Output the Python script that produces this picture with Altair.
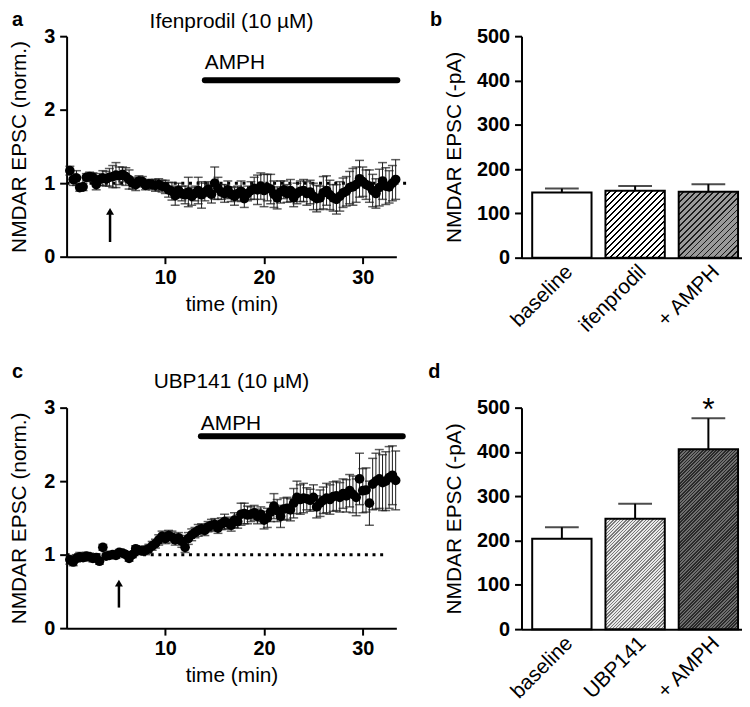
import altair as alt
import pandas as pd

FONT = "Liberation Sans"

# ---------------- data ----------------
minutes = [0.33, 0.67, 1.00, 1.33, 1.67, 2.00, 2.33, 2.67, 3.00, 3.33,
           3.67, 4.00, 4.33, 4.67, 5.00, 5.33, 5.67, 6.00, 6.33, 6.67,
           7.00, 7.33, 7.67, 8.00, 8.33, 8.67, 9.00, 9.33, 9.67, 10.00,
           10.33, 10.67, 11.00, 11.33, 11.67, 12.00, 12.33, 12.67, 13.00, 13.33,
           13.67, 14.00, 14.33, 14.67, 15.00, 15.33, 15.67, 16.00, 16.33, 16.67,
           17.00, 17.33, 17.67, 18.00, 18.33, 18.67, 19.00, 19.33, 19.67, 20.00,
           20.33, 20.67, 21.00, 21.33, 21.67, 22.00, 22.33, 22.67, 23.00, 23.33,
           23.67, 24.00, 24.33, 24.67, 25.00, 25.33, 25.67, 26.00, 26.33, 26.67,
           27.00, 27.33, 27.67, 28.00, 28.33, 28.67, 29.00, 29.33, 29.67, 30.00,
           30.33, 30.67, 31.00, 31.33, 31.67, 32.00, 32.33, 32.67, 33.00, 33.33]

ifen_mean = [1.17, 1.05, 1.07, 0.94, 0.95, 1.08, 1.09, 1.08, 0.98, 1.05,
             1.07, 1.06, 1.08, 1.09, 1.11, 1.10, 1.12, 1.09, 1.05, 1.00,
             0.98, 1.03, 1.02, 0.97, 0.99, 0.98, 0.97, 0.98, 0.96, 0.95,
             0.91, 0.89, 0.83, 0.90, 0.86, 0.84, 0.88, 0.82, 0.86, 0.90,
             0.84, 0.88, 0.92, 0.85, 1.00, 0.93, 0.88, 0.86, 0.91, 0.85,
             0.82, 0.86, 0.89, 0.79, 0.86, 0.90, 0.93, 0.91, 0.96, 0.90,
             0.94, 0.92, 0.85, 0.80, 0.88, 0.91, 0.86, 0.90, 0.80, 0.86,
             0.89, 0.90, 0.86, 0.88, 0.82, 0.79, 0.80, 0.87, 0.90, 0.84,
             0.80, 0.78, 0.82, 0.87, 0.89, 0.94, 0.95, 0.98, 1.06, 1.02,
             0.98, 0.96, 0.90, 0.86, 0.94, 1.03, 0.96, 0.95, 1.00, 1.05]
ifen_sem = [0.06, 0.08, 0.10, 0.05, 0.05, 0.05, 0.06, 0.06, 0.07, 0.08,
            0.10, 0.10, 0.12, 0.15, 0.17, 0.12, 0.10, 0.12, 0.13, 0.08,
            0.08, 0.07, 0.07, 0.06, 0.06, 0.07, 0.08, 0.08, 0.08, 0.09,
            0.10, 0.12, 0.13, 0.10, 0.10, 0.12, 0.20, 0.12, 0.10, 0.18,
            0.18, 0.12, 0.10, 0.12, 0.22, 0.15, 0.10, 0.12, 0.12, 0.10,
            0.12, 0.10, 0.14, 0.12, 0.10, 0.12, 0.15, 0.20, 0.18, 0.22,
            0.18, 0.20, 0.18, 0.15, 0.15, 0.12, 0.12, 0.15, 0.12, 0.14,
            0.14, 0.15, 0.16, 0.16, 0.18, 0.18, 0.16, 0.22, 0.20, 0.20,
            0.18, 0.20, 0.20, 0.20, 0.20, 0.22, 0.25, 0.24, 0.25, 0.20,
            0.20, 0.22, 0.22, 0.20, 0.25, 0.25, 0.25, 0.22, 0.24, 0.27]

ubp_mean = [0.93, 0.90, 0.95, 0.97, 0.96, 0.98, 0.97, 0.95, 0.96, 0.91,
            1.10, 0.98, 0.99, 1.00, 0.99, 1.03, 1.02, 1.00, 0.95, 1.00,
            1.08, 1.06, 1.05, 1.06, 1.08, 1.12, 1.15, 1.20, 1.25, 1.22,
            1.26, 1.24, 1.20, 1.23, 1.18, 1.10, 1.22, 1.27, 1.30, 1.33,
            1.35, 1.33, 1.38, 1.40, 1.41, 1.36, 1.42, 1.45, 1.43, 1.40,
            1.47, 1.45, 1.55, 1.56, 1.54, 1.55, 1.57, 1.52, 1.55, 1.47,
            1.50, 1.58, 1.66, 1.60, 1.52, 1.62, 1.63, 1.61, 1.70, 1.78,
            1.75, 1.77, 1.76, 1.74, 1.78, 1.65, 1.70, 1.74, 1.77, 1.75,
            1.79, 1.80, 1.78, 1.83, 1.80, 1.87, 1.82, 1.78, 2.03, 1.87,
            1.88, 1.70, 1.96, 2.00, 2.03, 1.98, 2.00, 2.05, 2.08, 2.01]
ubp_sem = [0.06, 0.05, 0.05, 0.06, 0.05, 0.05, 0.05, 0.05, 0.05, 0.04,
           0.04, 0.04, 0.04, 0.04, 0.04, 0.04, 0.04, 0.04, 0.04, 0.04,
           0.04, 0.05, 0.05, 0.06, 0.06, 0.06, 0.06, 0.07, 0.07, 0.07,
           0.07, 0.08, 0.07, 0.07, 0.08, 0.07, 0.08, 0.08, 0.07, 0.08,
           0.07, 0.07, 0.07, 0.08, 0.08, 0.07, 0.08, 0.10, 0.08, 0.08,
           0.10, 0.09, 0.15, 0.14, 0.12, 0.10, 0.10, 0.10, 0.10, 0.12,
           0.13, 0.13, 0.17, 0.15, 0.15, 0.15, 0.15, 0.15, 0.20, 0.22,
           0.20, 0.20, 0.15, 0.15, 0.17, 0.15, 0.18, 0.18, 0.20, 0.20,
           0.20, 0.20, 0.20, 0.20, 0.22, 0.22, 0.25, 0.25, 0.35, 0.30,
           0.30, 0.30, 0.35, 0.38, 0.40, 0.38, 0.40, 0.42, 0.40, 0.40]

cats_b = ["baseline", "ifenprodil", "+ AMPH"]
vals_b = [147, 151, 149]
errs_b = [9, 11, 17]

cats_d = ["baseline", "UBP141", "+ AMPH"]
vals_d = [204, 249, 406]
errs_d = [26, 34, 70]

# ---------------- layout constants ----------------
W_T, H_T = 332, 222
W_B, H_B = 222, 223

TSX = alt.Scale(domain=[0, 33.4], nice=False, zero=False)
TSY = alt.Scale(domain=[0, 3], nice=False)
TAX_X = alt.Axis(title="time (min)", values=[10, 20, 30], labelPadding=4, titlePadding=6)
TAX_Y = alt.Axis(title="NMDAR EPSC (norm.)", values=[0, 1, 2, 3], labelPadding=5, titlePadding=14)


def time_panel(mean, sem, letter, title, amph, amph_bar_y, amph_text_y,
               arrow_t, arrow_y, dots, title_y, letter_xy):
    df = pd.DataFrame({"t": minutes, "m": mean, "e": sem})
    df["lo"] = df["m"] - df["e"]
    df["hi"] = df["m"] + df["e"]

    def X(f):
        return alt.X(f"{f}:Q", scale=TSX, axis=TAX_X)

    def Y(f):
        return alt.Y(f"{f}:Q", scale=TSY, axis=TAX_Y)

    base = alt.Chart(df)
    dotted = alt.Chart(pd.DataFrame({"x0": [dots[0]], "x1": [dots[1]], "y": [1.0]})).mark_rule(
        strokeDash=[3, 4.7], strokeWidth=3, color="black"
    ).encode(x=X("x0"), x2=alt.X2("x1"), y=Y("y"))
    errs = base.mark_rule(strokeWidth=1, color="#1a1a1a").encode(x=X("t"), y=Y("lo"), y2=alt.Y2("hi"))
    cap_hi = base.mark_tick(orient="horizontal", size=9, thickness=1.5, color="#1a1a1a").encode(x=X("t"), y=Y("hi"))
    cap_lo = base.mark_tick(orient="horizontal", size=9, thickness=1.5, color="#1a1a1a").encode(x=X("t"), y=Y("lo"))
    pts = base.mark_circle(size=95, color="black", opacity=1).encode(x=X("t"), y=Y("m"))

    ann = pd.DataFrame({"x0": [amph[0]], "x1": [amph[1]], "y": [amph_bar_y],
                        "ty": [amph_text_y], "label": ["AMPH"]})
    amph_bar = alt.Chart(ann).mark_rule(strokeWidth=6, strokeCap="round", color="black").encode(
        x=X("x0"), x2=alt.X2("x1"), y=Y("y"))
    amph_txt = alt.Chart(ann).mark_text(align="left", baseline="alphabetic", fontSize=21,
                                        font=FONT, color="black").encode(
        x=X("x0"), y=Y("ty"), text="label:N")

    arr = pd.DataFrame({"x": [arrow_t], "y0": [arrow_y[0]], "y1": [arrow_y[1]], "yh": [arrow_y[2]]})
    shaft = alt.Chart(arr).mark_rule(strokeWidth=2.5, color="black").encode(
        x=X("x"), y=Y("y0"), y2=alt.Y2("y1"))
    head = alt.Chart(arr).mark_point(shape="triangle-up", filled=True, size=64, color="black",
                                     opacity=1).encode(x=X("x"), y=Y("yh"))

    lab = pd.DataFrame({"letter": [letter], "title": [title]})
    letter_mark = alt.Chart(lab).mark_text(align="left", baseline="alphabetic", fontSize=20,
                                           fontWeight="bold", font=FONT, color="black").encode(
        x=alt.value(letter_xy[0]), y=alt.value(letter_xy[1]), text="letter:N")
    title_mark = alt.Chart(lab).mark_text(align="center", baseline="alphabetic", fontSize=21,
                                          font=FONT, color="black").encode(
        x=alt.value(W_T / 2), y=alt.value(title_y), text="title:N")

    return alt.layer(dotted, errs, cap_lo, cap_hi, pts, amph_bar, amph_txt, shaft, head,
                     letter_mark, title_mark).properties(width=W_T, height=H_T)


def hatch(bg, fg, value, spacing, frac):
    w = W_B * (1 - 0.19) / (3 - 0.19 + 0.2)
    h = value / 500 * H_B
    r = h / w
    x2 = (1 + r) / (1 + r * r)
    y2 = r * x2
    n = max(1, round((w + h) / spacing))
    stops = []
    for i in range(n):
        a = i / n
        b = (i + 1 - frac) / n
        c = (i + 1) / n
        stops += [alt.GradientStop(color=bg, offset=a), alt.GradientStop(color=bg, offset=b),
                  alt.GradientStop(color=fg, offset=b), alt.GradientStop(color=fg, offset=c)]
    return alt.LinearGradient(gradient="linear", stops=stops, x1=0, y1=0, x2=x2, y2=y2)


BY = alt.Scale(domain=[0, 500], nice=False)
BAX_Y = alt.Axis(title="NMDAR EPSC (-pA)", values=[0, 100, 200, 300, 400, 500],
                 labelPadding=5, titlePadding=12)


def bar_panel(cats, vals, errs, fills, letter, letter_xy, star=False):
    df = pd.DataFrame({"cond": cats, "val": vals, "err": errs})
    df["top"] = df["val"] + df["err"]
    X = alt.X("cond:N", sort=cats,
              scale=alt.Scale(domain=cats, paddingInner=0.19, paddingOuter=0.1, align=0.73),
              axis=alt.Axis(title=None, labelAngle=-45, ticks=False, tickSize=0, labelFontSize=21,
                            labelFontWeight="normal", labelPadding=3))

    def Y(f):
        return alt.Y(f"{f}:Q", scale=BY, axis=BAX_Y)

    layers = []
    for cat, fill in zip(cats, fills):
        layers.append(alt.Chart(df).transform_filter(alt.datum.cond == cat).mark_bar(
            fill=fill, stroke="black", strokeWidth=2).encode(x=X, y=Y("val")))
    layers.append(alt.Chart(df).mark_rule(strokeWidth=2, color="black").encode(
        x=X, y=Y("val"), y2=alt.Y2("top")))
    layers.append(alt.Chart(df).mark_tick(orient="horizontal", size=34, thickness=2,
                                          color="black").encode(x=X, y=Y("top")))
    if star:
        layers.append(alt.Chart(df).transform_filter(alt.datum.cond == cats[-1]).mark_text(
            text="*", fontSize=32, font=FONT, baseline="alphabetic", dy=2, color="black").encode(
            x=X, y=Y("top")))
    lab = pd.DataFrame({"letter": [letter]})
    layers.append(alt.Chart(lab).mark_text(align="left", baseline="alphabetic", fontSize=20,
                                           fontWeight="bold", font=FONT, color="black").encode(
        x=alt.value(letter_xy[0]), y=alt.value(letter_xy[1]), text="letter:N"))
    return alt.layer(*layers).properties(width=W_B, height=H_B)


panel_a = time_panel(ifen_mean, ifen_sem, "a", "Ifenprodil (10 \u00b5M)",
                     amph=(14.0, 33.5), amph_bar_y=2.40, amph_text_y=2.55,
                     arrow_t=4.4, arrow_y=(0.20, 0.58, 0.617), dots=(0, 34.8),
                     title_y=-8, letter_xy=(-55, -10))
panel_c = time_panel(ubp_mean, ubp_sem, "c", "UBP141 (10 \u00b5M)",
                     amph=(13.6, 34.05), amph_bar_y=2.61, amph_text_y=2.70,
                     arrow_t=5.3, arrow_y=(0.28, 0.58, 0.612), dots=(0, 32.2),
                     title_y=-20, letter_xy=(-55, -30))

fills_b = ["white", hatch("white", "black", vals_b[1], 6, 0.3), hatch("#999999", "#1a1a1a", vals_b[2], 6, 0.3)]
fills_d = ["white", hatch("#e8e8e8", "#7a7a7a", vals_d[1], 3.3, 0.45), hatch("#6e6e6e", "#2a2a2a", vals_d[2], 3.3, 0.5)]

panel_b = bar_panel(cats_b, vals_b, errs_b, fills_b, "b", (-92, -10))
panel_d = bar_panel(cats_d, vals_d, errs_d, fills_d, "d", (-94, -30), star=True)

top = alt.hconcat(panel_a, panel_b, spacing=18)
bottom = alt.hconcat(panel_c, panel_d, spacing=22)

chart = alt.vconcat(top, bottom, spacing=26).properties(
    padding=0
).configure_view(
    stroke=None
).configure_axis(
    grid=False, domainColor="black", domainWidth=2, tickColor="black", tickWidth=2, tickSize=7,
    labelFont=FONT, labelFontSize=20, labelFontWeight="bold", labelColor="black",
    titleFont=FONT, titleFontSize=21, titleFontWeight="normal", titleColor="black"
)

chart.save("out.html", embed_options={"renderer": "svg", "actions": False})
